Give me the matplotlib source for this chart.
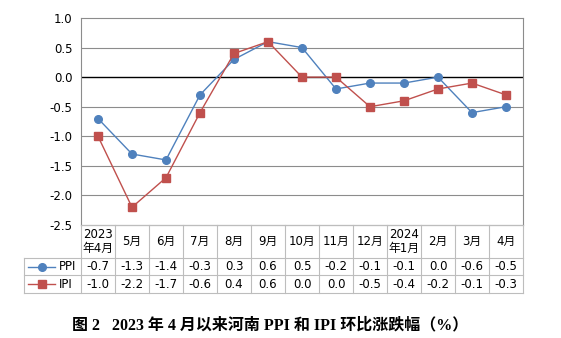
import matplotlib
matplotlib.use("Agg")
import matplotlib.pyplot as plt
from matplotlib import transforms
from matplotlib.lines import Line2D

plt.rcParams['font.family'] = ['DejaVu Sans', 'Noto Sans CJK SC']

categories = ["2023\n年4月", "5月", "6月", "7月", "8月", "9月", "10月", "11月", "12月",
              "2024\n年1月", "2月", "3月", "4月"]
ppi = [-0.7, -1.3, -1.4, -0.3, 0.3, 0.6, 0.5, -0.2, -0.1, -0.1, 0.0, -0.6, -0.5]
ipi = [-1.0, -2.2, -1.7, -0.6, 0.4, 0.6, 0.0, 0.0, -0.5, -0.4, -0.2, -0.1, -0.3]
yticks = [1.0, 0.5, 0.0, -0.5, -1.0, -1.5, -2.0, -2.5]
title = "图 2   2023 年 4 月以来河南 PPI 和 IPI 环比涨跌幅（%）"

W, H = 561, 338
fig = plt.figure(figsize=(W / 100, H / 100), dpi=100)

def fx(p):
    return p / W

def fy(p):
    return 1 - p / H

FS = 8.5
left, right, top, bottom = 81, 523, 18, 225
ax = fig.add_axes([fx(left), fy(bottom), fx(right - left), (bottom - top) / H])

blue = "#4F81BD"
red = "#C0504D"
x = list(range(len(categories)))
ax.plot(x, ppi, color=blue, marker="o", markersize=5.5, linewidth=1.0, label="PPI", zorder=3)
ax.plot(x, ipi, color=red, marker="s", markersize=5.5, linewidth=1.0, label="IPI", zorder=3)

ax.set_xlim(-0.5, len(categories) - 0.5)
ax.set_ylim(-2.5, 1.0)
ax.set_yticks(yticks)
ax.set_yticklabels([f"{v:.1f}" for v in yticks], fontsize=FS)
ax.set_xticks([])
ax.tick_params(axis="y", length=0, pad=6)
for v in yticks:
    if v == 0:
        ax.axhline(v, color="black", linewidth=1.0, zorder=1)
    elif v not in (1.0, -2.5):
        ax.axhline(v, color="#8c8c8c", linewidth=0.8, zorder=1)
for s in ax.spines.values():
    s.set_color("#8c8c8c")
    s.set_linewidth(0.8)

# data table below the axes
tr = transforms.blended_transform_factory(ax.transData, fig.transFigure)
tcol = "#bdbdbd"
tleft = 24
rows_y = [225, 258, 275, 293]
for i, yy in enumerate(rows_y):
    if i == 0:
        fig.add_artist(Line2D([fx(left), fx(right)], [fy(yy), fy(yy)], color=tcol, lw=0.8))
    else:
        fig.add_artist(Line2D([fx(tleft), fx(right)], [fy(yy), fy(yy)], color=tcol, lw=0.8))
for i in range(len(categories) + 1):
    xx = i - 0.5
    fig.add_artist(Line2D([xx, xx], [fy(rows_y[0]), fy(rows_y[-1])], color=tcol, lw=0.8, transform=tr))
fig.add_artist(Line2D([fx(tleft), fx(tleft)], [fy(rows_y[1]), fy(rows_y[-1])], color=tcol, lw=0.8))

for i, c in enumerate(categories):
    fig.text(i, fy((rows_y[0] + rows_y[1]) / 2), c, transform=tr, ha="center", va="center",
             fontsize=FS, linespacing=1.0)
    fig.text(i, fy((rows_y[1] + rows_y[2]) / 2), f"{ppi[i]:.1f}", transform=tr, ha="center",
             va="center", fontsize=FS)
    fig.text(i, fy((rows_y[2] + rows_y[3]) / 2), f"{ipi[i]:.1f}", transform=tr, ha="center",
             va="center", fontsize=FS)

for (ry0, ry1), name, col, mk in [((rows_y[1], rows_y[2]), "PPI", blue, "o"),
                                  ((rows_y[2], rows_y[3]), "IPI", red, "s")]:
    yc = fy((ry0 + ry1) / 2)
    fig.add_artist(Line2D([fx(28), fx(55)], [yc, yc], color=col, lw=1.0))
    fig.add_artist(Line2D([fx(41.5)], [yc], color=col, marker=mk, markersize=5.5, lw=0))
    fig.text(fx(59), yc, name, ha="left", va="center", fontsize=FS)

fig.text(fx(270), fy(325), title, ha="center", va="center", fontsize=11.5, fontweight="bold",
         family=["Liberation Serif", "Noto Sans CJK SC"])

fig.savefig("out.png", dpi=100)
